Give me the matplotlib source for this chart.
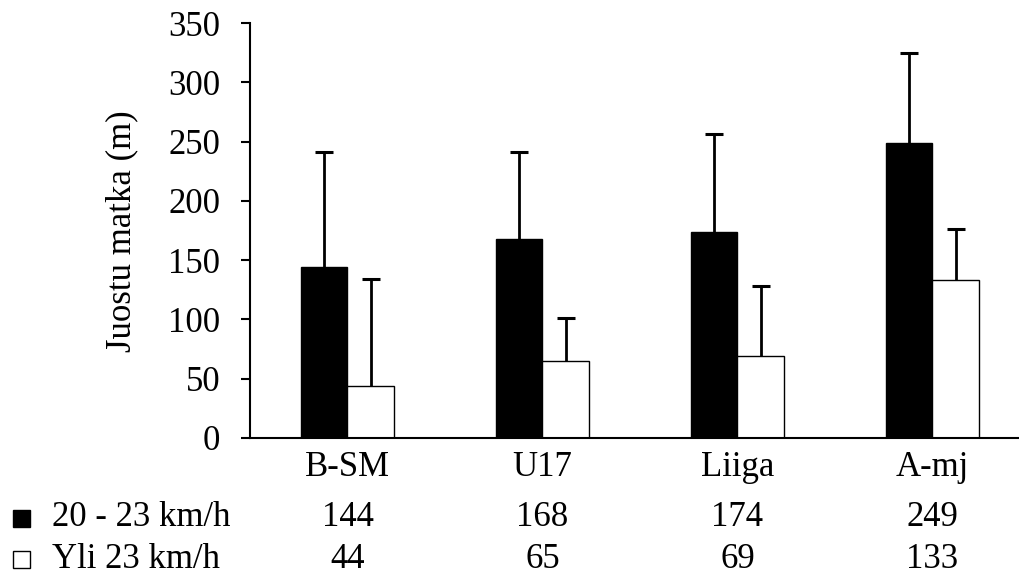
import numpy as np
import matplotlib.pyplot as plt
from matplotlib.patches import Rectangle
from matplotlib.transforms import blended_transform_factory

plt.rcParams['font.family'] = ['Liberation Serif', 'DejaVu Serif']

categories = ["B-SM", "U17", "Liiga", "A-mj"]
series_names = ["20 - 23 km/h", "Yli 23 km/h"]
mid_speed = [144, 168, 174, 249]
high_speed = [44, 65, 69, 133]
# upper error bars (top of whisker minus bar)
mid_err = [97, 73, 82, 76]
high_err = [90, 36, 59, 43]

W, H = 1020, 581
fig = plt.figure(figsize=(W / 100, H / 100), dpi=100)
ax = fig.add_axes([250 / W, 1 - 438 / H, 770 / W, 415 / H])

x = np.arange(len(categories))
w = 0.236
for offs, vals, errs, fc in [(-w / 2, mid_speed, mid_err, "black"), (w / 2, high_speed, high_err, "white")]:
    ax.bar(x + offs, vals, w, color=fc, edgecolor="black", linewidth=1, zorder=2)
    tops = np.array(vals) + np.array(errs)
    ax.errorbar(x + offs, vals, yerr=[np.zeros(4), errs], fmt="none", ecolor="black",
                elinewidth=2, capsize=0, zorder=1)
    ax.plot(x + offs, tops, ls="none", marker="_", ms=12.5, mew=2.2, color="black", zorder=3)

ax.set_xlim(-0.5, -0.5 + 770 / 195)
ax.set_ylim(0, 350)
ax.set_yticks(np.arange(0, 351, 50))
ax.tick_params(axis="y", labelsize=25, length=6.5, width=1.5, direction="out", pad=15)
ax.tick_params(axis="x", labelsize=25, length=0, pad=9)
ax.set_xticks(x)
ax.set_xticklabels(categories)
ax.set_ylabel("Juostu matka (m)", fontsize=25)
ax.yaxis.set_label_coords((122 - 250) / 770, (438 - 231) / 415)
ax.yaxis.label.set_va("center")
for s in ["top", "right"]:
    ax.spines[s].set_visible(False)
ax.spines["left"].set_linewidth(1.5)
ax.spines["bottom"].set_linewidth(1.5)
ax.spines["left"].set_zorder(4)
ax.spines["bottom"].set_zorder(4)

# data table below the chart
tr = blended_transform_factory(ax.transData, fig.transFigure)
rows = [(series_names[0], mid_speed, "black", 518), (series_names[1], high_speed, "white", 559)]
for name, vals, fc, yp in rows:
    yf = 1 - yp / H
    fig.add_artist(Rectangle((13 / W, 1 - (yp + 9) / H), 17 / W, 17 / H, transform=fig.transFigure,
                             facecolor=fc, edgecolor="black", linewidth=1))
    fig.text(52 / W, yf, name, fontsize=25, va="center", ha="left")
    for i, v in enumerate(vals):
        ax.text(x[i], yf, str(v), transform=tr, fontsize=25, va="center", ha="center")

fig.savefig("out.png", dpi=100)
